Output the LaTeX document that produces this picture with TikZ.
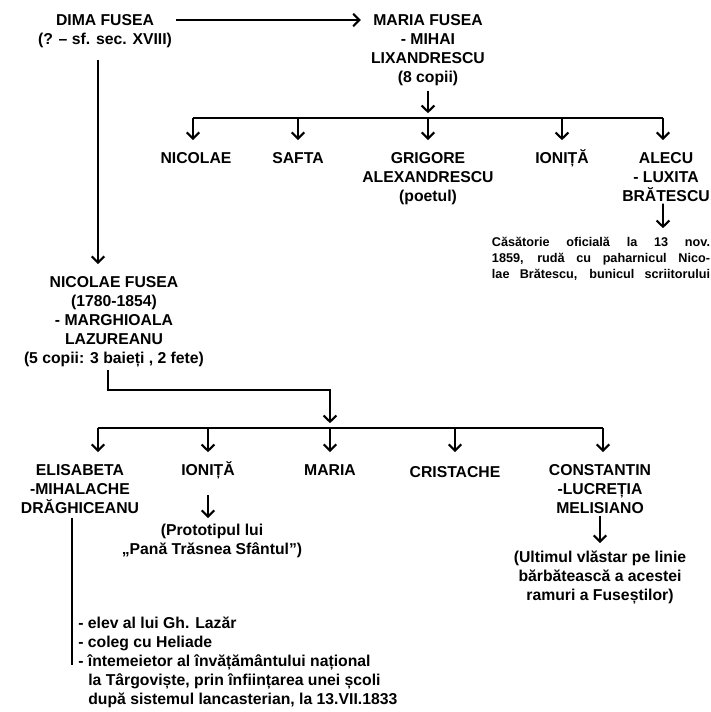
\documentclass[tikz,border=0pt]{standalone}
\usepackage{fontspec}
\setmainfont{Liberation Sans}
\usetikzlibrary{arrows.meta, positioning}

\begin{document}
\begin{tikzpicture}[
    x=0.025cm, y=-0.025cm,
    name_style/.style={anchor=north, inner sep=0pt, align=center, font=\fontsize{11.2}{13.5}\selectfont\bfseries},
    note_style/.style={anchor=north, inner sep=0pt, align=center, font=\fontsize{9}{11.4}\selectfont\bfseries},
    arrow_style/.style={-{Straight Barb[length=4.4pt, width=9pt, line width=1.5pt]}, line width=1.2pt},
    line_style/.style={line width=1pt}
]
    \useasboundingbox (0,0) rectangle (711,712);

    % First generation
    \node[name_style] (node_dima) at (105,14) {DIMA FUSEA\\(? – sf. sec. XVIII)};
    \node[name_style] (node_maria) at (428,14) {MARIA FUSEA\\- MIHAI\\LIXANDRESCU\\(8 copii)};
    \draw[arrow_style] ([shift={(4,6)}]node_dima.north east) -- ([shift={(-10,6)}]node_maria.north west);

    % Children of Maria Fusea
    \coordinate (top_hub) at (428,118);
    \coordinate (top_bar_l) at (193,118);
    \coordinate (top_bar_r) at (663,118);
    \node[name_style] (node_nicolae) at (196,152) {NICOLAE};
    \node[name_style] (node_safta) at (298,152) {SAFTA};
    \node[name_style] (node_grigore) at (428,152) {GRIGORE\\ALEXANDRESCU\\(poetul)};
    \node[name_style] (node_ionita_a) at (562,149) {IONIȚĂ};
    \node[name_style] (node_alecu) at (666,152) {ALECU\\- LUXITA\\BRĂTESCU};
    \node[note_style] (node_note) at (601,237) {%
        \makebox[5.45cm][s]{Căsătorie oficială la 13 nov.}\\
        \makebox[5.45cm][s]{1859, rudă cu paharnicul Nico-}\\
        \makebox[5.45cm][s]{lae Brătescu, bunicul scriitorului}};

    \draw[arrow_style, shorten <=0.12cm, shorten >=0.12cm] (node_maria.south) -- (top_hub);
    \draw[line_style] (top_bar_l) -- (top_bar_r);
    \draw[arrow_style, shorten >=0.3cm] (top_bar_l) -- (top_bar_l |- node_nicolae.north);
    \draw[arrow_style, shorten >=0.3cm] (node_safta.north |- top_hub) -- (node_safta.north);
    \draw[arrow_style, shorten >=0.3cm] (top_hub) -- (node_grigore.north);
    \draw[arrow_style, shorten >=0.22cm] (node_ionita_a.north |- top_hub) -- (node_ionita_a.north);
    \draw[arrow_style, shorten >=0.3cm] (top_bar_r) -- (top_bar_r |- node_alecu.north);
    \draw[arrow_style, shorten >=0.22cm] ([shift={(-3,2)}]node_alecu.south) -- ([xshift=-0.075cm]node_alecu.south |- node_note.north);

    % Second line: Nicolae Fusea
    \coordinate (dima_down) at (98,60);
    \node[name_style] (node_nicfusea) at (114,276) {NICOLAE FUSEA\\(1780-1854)\\- MARGHIOALA\\LAZUREANU\\(5 copii: 3 baieți , 2 fete)};
    \draw[arrow_style, shorten >=0.3cm] (dima_down) -- (dima_down |- node_nicfusea.north);

    % Children of Nicolae Fusea
    \coordinate (nic_turn) at (108,390);
    \coordinate (bot_hub) at (330,428);
    \coordinate (bot_bar_l) at (98,428);
    \coordinate (bot_bar_r) at (603,428);
    \draw[arrow_style, shorten >=0.12cm] ([yshift=-0.08cm]nic_turn |- node_nicfusea.south) -- (nic_turn) -| (bot_hub);
    \draw[line_style] (bot_bar_l) -- (bot_bar_r);

    \node[name_style] (node_elisabeta) at (80,464) {ELISABETA\\-MIHALACHE\\DRĂGHICEANU};
    \node[name_style] (node_ionita_b) at (208,461) {IONIȚĂ};
    \node[name_style] (node_maria_b) at (330,464) {MARIA};
    \node[name_style] (node_cristache) at (455,466) {CRISTACHE};
    \node[name_style] (node_constantin) at (600,464) {CONSTANTIN\\-LUCREȚIA\\MELISIANO};

    \draw[arrow_style, shorten >=0.3cm] (bot_bar_l) -- (bot_bar_l |- node_elisabeta.north);
    \draw[arrow_style, shorten >=0.22cm] (node_ionita_b.north |- bot_hub) -- (node_ionita_b.north);
    \draw[arrow_style, shorten >=0.3cm] (bot_hub) -- (node_maria_b.north);
    \draw[arrow_style, shorten >=0.35cm] (node_cristache.north |- bot_hub) -- (node_cristache.north);
    \draw[arrow_style, shorten >=0.3cm] (bot_bar_r) -- (bot_bar_r |- node_constantin.north);

    % Notes under the grandchildren
    \node[name_style] (node_prototip) at (212,524) {(Prototipul lui\\„Pană Trăsnea Sfântul")};
    \node[name_style] (node_ultimul) at (600,551) {(Ultimul vlăstar pe linie\\bărbătească a acestei\\ramuri a Fuseștilor)};
    \draw[arrow_style, shorten >=0.15cm] ([yshift=-0.4cm]node_ionita_b.south) -- (node_ionita_b.south |- node_prototip.north);
    \draw[arrow_style, shorten <=0.05cm, shorten >=0.2cm] (node_constantin.south) -- (node_constantin.south |- node_ultimul.north);

    % Elisabeta's line
    \coordinate (elis_end) at (72,665);
    \draw[line_style] (elis_end |- node_elisabeta.south) ++(0,4) -- (elis_end);
    \node[name_style, anchor=north west, align=left] (node_elev) at (78,617) {- elev al lui Gh. Lazăr\\- coleg cu Heliade\\- întemeietor al învățământului național\\\hspace*{0.25cm}la Târgoviște, prin înființarea unei școli\\\hspace*{0.25cm}după sistemul lancasterian, la 13.VII.1833};

\end{tikzpicture}
\end{document}
